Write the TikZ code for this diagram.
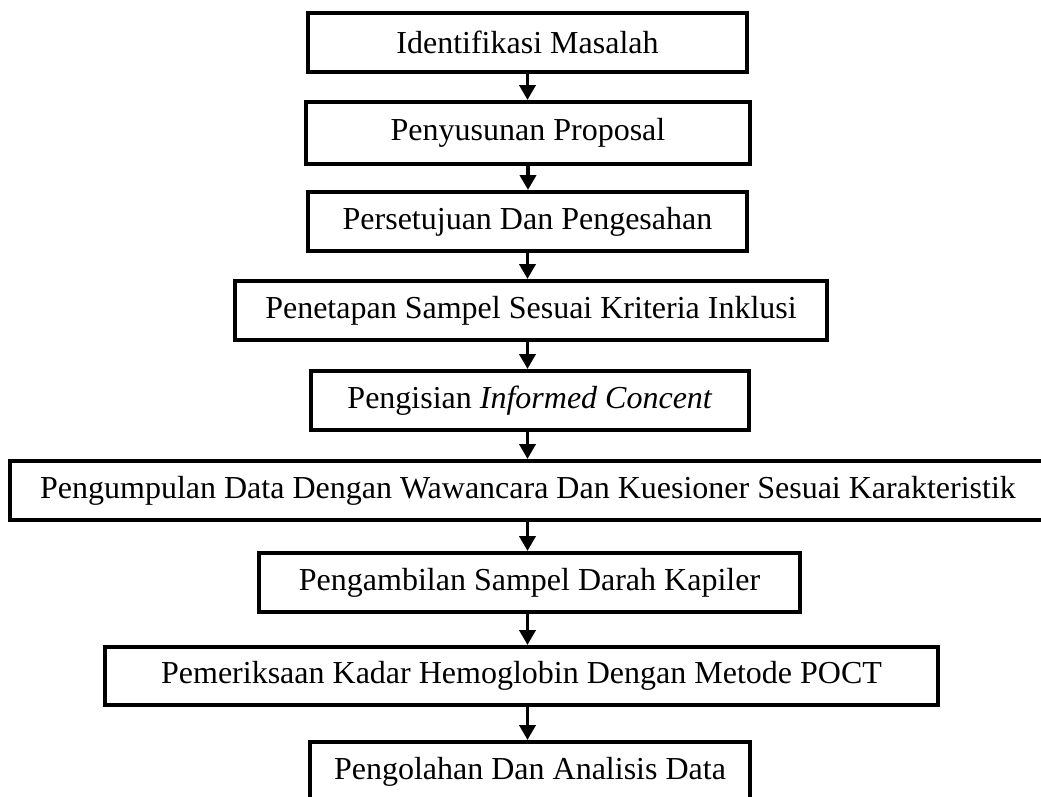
\documentclass[tikz,border=0pt]{standalone}
\usepackage{fontspec}
\setmainfont{Liberation Serif}
\usetikzlibrary{arrows.meta}
\tikzset{
	langkah/.style={draw,line width=1.6pt,inner sep=0pt,minimum height=23.6pt,font=\fontsize{12.8pt}{14.5pt}\selectfont},
	panah/.style={->,line width=1.5pt}
}

\begin{document}
\begin{tikzpicture}[line cap=rect,line join=miter,>={Triangle[length=6pt,width=6.4pt]},x=0.4pt,y=0.4pt]
	\clip(0,0) rectangle (1041,-796);
	\node[langkah,minimum width=175.6pt] (b1) at (527.5,-42.5) {Identifikasi Masalah};
	\node[langkah,minimum width=177.2pt,minimum height=24.8pt] (b2) at (528,-133) {Penyusunan Proposal};
	\node[langkah,minimum width=175.6pt] (b3) at (527.5,-221.5) {Persetujuan Dan Pengesahan};
	\node[langkah,minimum width=236.8pt] (b4) at (531,-310.5) {Penetapan Sampel Sesuai Kriteria Inklusi};
	\node[langkah,minimum width=175.2pt] (b5) at (530,-400.5) {Pengisian \textit{Informed Concent}};
	\node[langkah,minimum width=414.4pt] (b6) at (528,-490.5) {Pengumpulan Data Dengan Wawancara Dan Kuesioner Sesuai Karakteristik};
	\node[langkah,minimum width=216.4pt] (b7) at (529.5,-582.5) {Pengambilan Sampel Darah Kapiler};
	\node[langkah,minimum width=333.2pt,minimum height=23.2pt] (b8) at (521.5,-676) {Pemeriksaan Kadar Hemoglobin Dengan Metode POCT};
	\node[langkah,minimum width=176pt] (b9) at (530,-771.5) {Pengolahan Dan Analisis Data};
	% alur
	\draw[panah] (b1.south) -- (b1.south |- b2.north);
	\draw[panah] (b2.south) -- (b2.south |- b3.north);
	\draw[panah] (b3.south) -- (b3.south |- b4.north);
	\draw[panah] (b4.south -| b3.south) -- (b3.south |- b5.north);
	\draw[panah] (b5.south -| b3.south) -- (b3.south |- b6.north);
	\draw[panah] (b6.south -| b3.south) -- (b3.south |- b7.north);
	\draw[panah] (b7.south -| b3.south) -- (b3.south |- b8.north);
	\draw[panah] (b8.south -| b3.south) -- (b3.south |- b9.north);
\end{tikzpicture}
\end{document}
